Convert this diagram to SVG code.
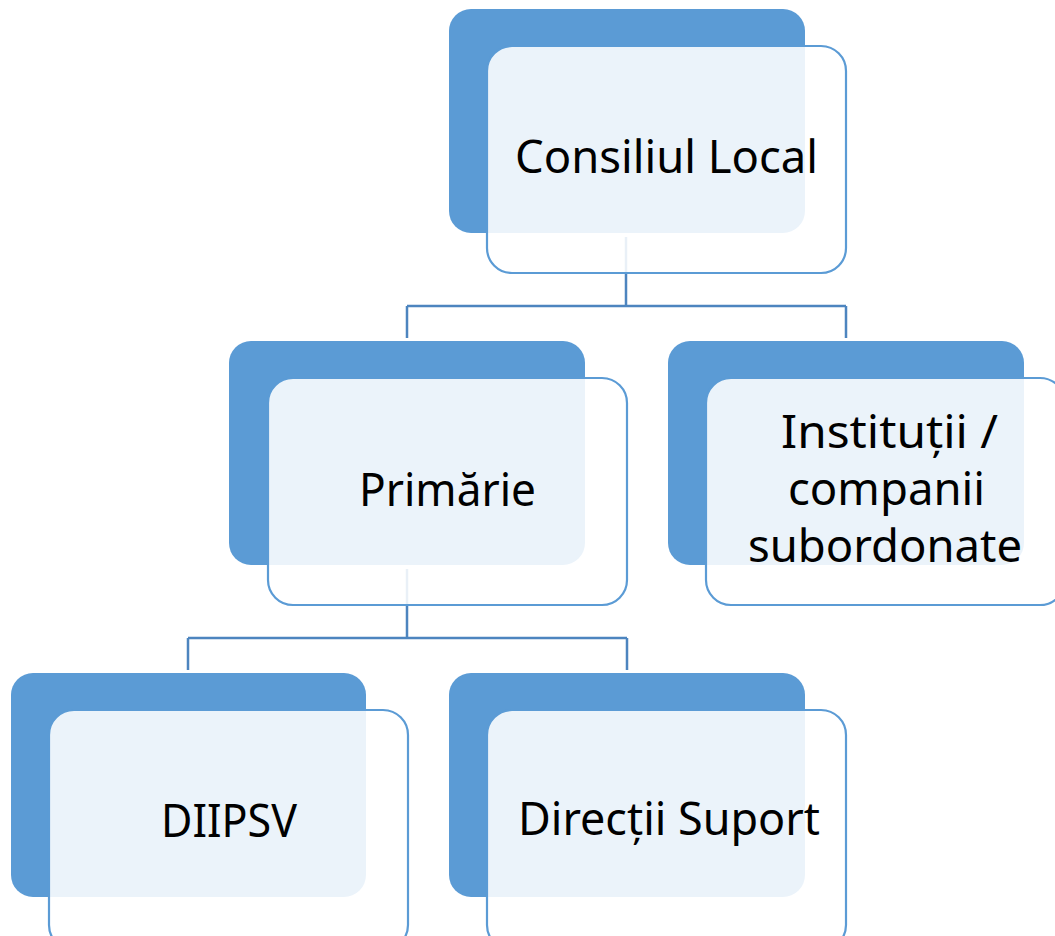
<svg xmlns="http://www.w3.org/2000/svg" width="1055" height="936" viewBox="0 0 1055 936">
<style>
.dark{fill:#5B9BD5}
.light{fill:#FFFFFF;fill-opacity:0.88;stroke:#5B9BD5;stroke-width:2.2}
.conn{fill:none;stroke:#4D85BF;stroke-width:2.5}
.lbl{font-family:"Noto Sans","Open Sans",sans-serif;font-size:46px;fill:#000}
</style>
<rect width="1055" height="936" fill="#FFFFFF"/>
<g id="connectors">
<path class="conn" d="M626 237V306M407 306H846M407 306V338M846 306V338"/>
<path class="conn" d="M407 569V638M188 638H627M188 638V670M627 638V670"/>
</g>
<g id="node-consiliul">
<rect class="dark" x="449" y="9" width="356" height="224" rx="22"/>
<rect class="light" x="487" y="46" width="359" height="227" rx="25"/>
<text class="lbl" x="515" y="173" textLength="303" lengthAdjust="spacingAndGlyphs">Consiliul Local</text>
</g>
<g id="node-primarie">
<rect class="dark" x="229" y="341" width="356" height="224" rx="22"/>
<rect class="light" x="268" y="378" width="359" height="227" rx="25"/>
<text class="lbl" x="359" y="506" textLength="177" lengthAdjust="spacingAndGlyphs">Primărie</text>
</g>
<g id="node-institutii">
<rect class="dark" x="668" y="341" width="356" height="224" rx="22"/>
<rect class="light" x="706" y="378" width="359" height="227" rx="25"/>
<text class="lbl" x="781" y="448" textLength="217" lengthAdjust="spacingAndGlyphs">Instituții /</text>
<text class="lbl" x="788" y="505" textLength="197" lengthAdjust="spacingAndGlyphs">companii</text>
<text class="lbl" x="748" y="562" textLength="274" lengthAdjust="spacingAndGlyphs">subordonate</text>
</g>
<g id="node-diipsv">
<rect class="dark" x="11" y="673" width="355" height="224" rx="22"/>
<rect class="light" x="49" y="710" width="359" height="240" rx="25"/>
<text class="lbl" x="161" y="837" textLength="136" lengthAdjust="spacingAndGlyphs">DIIPSV</text>
</g>
<g id="node-directii">
<rect class="dark" x="449" y="673" width="356" height="224" rx="22"/>
<rect class="light" x="487" y="710" width="359" height="240" rx="25"/>
<text class="lbl" x="518" y="835" textLength="302" lengthAdjust="spacingAndGlyphs">Direcții Suport</text>
</g>
</svg>
